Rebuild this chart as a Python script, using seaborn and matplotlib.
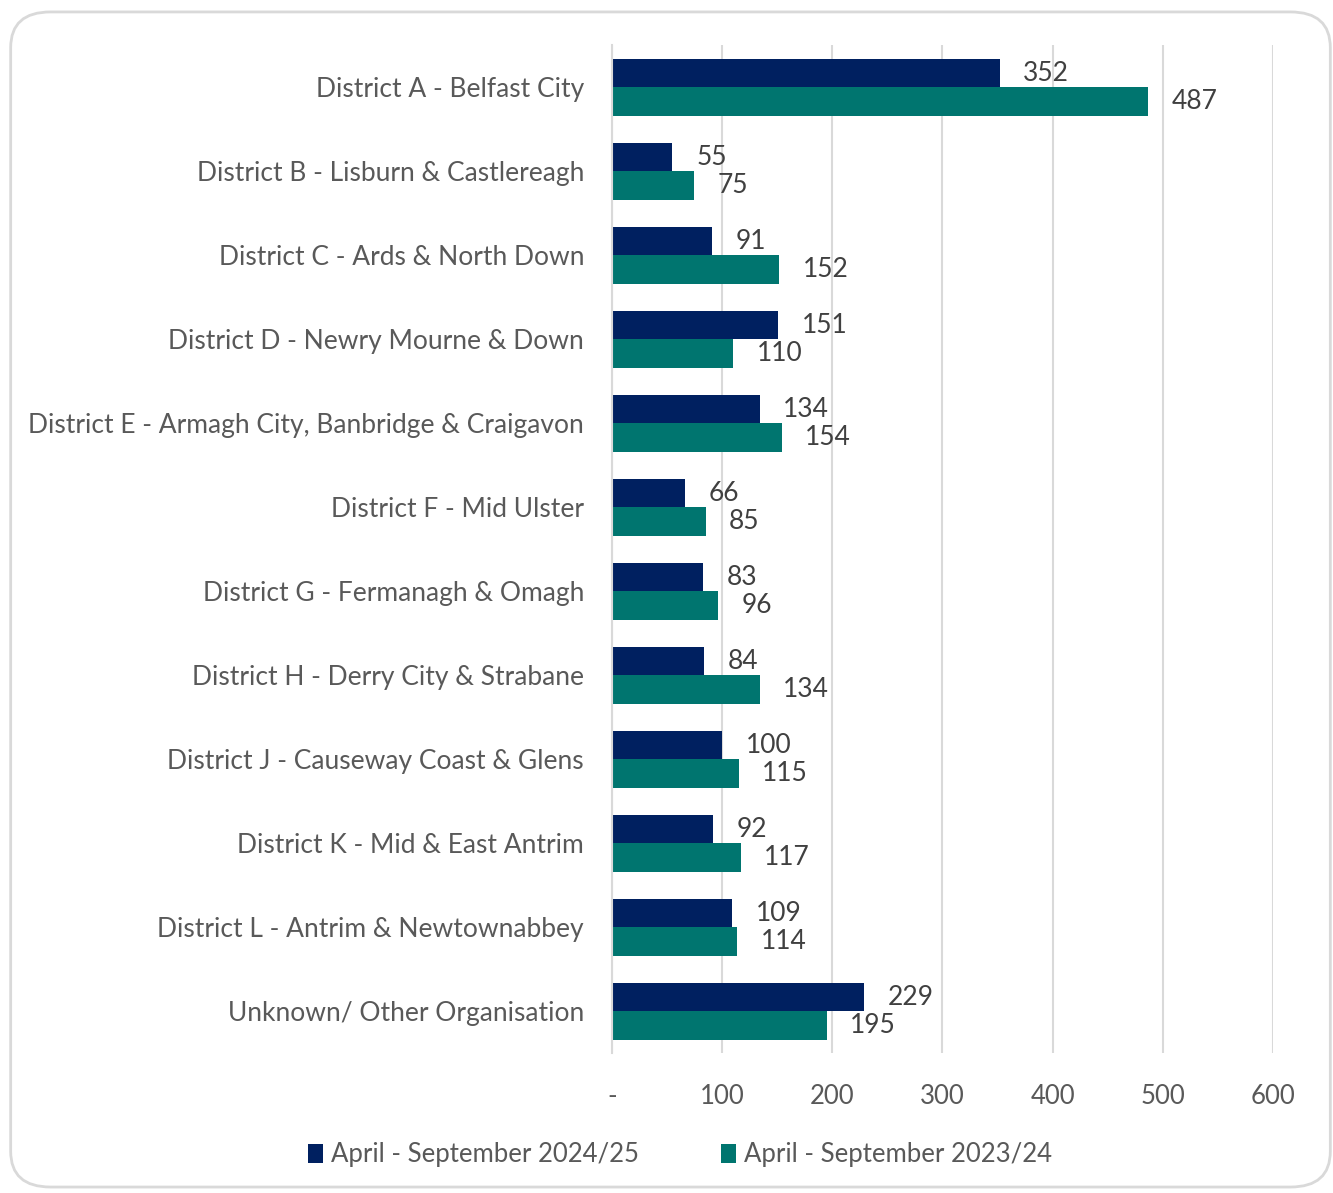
import matplotlib
matplotlib.use("Agg")
import matplotlib.pyplot as plt
import seaborn as sns
import pandas as pd
from matplotlib.patches import FancyBboxPatch, Patch
from matplotlib.ticker import FixedLocator, FixedFormatter

categories = [
    "District A - Belfast City",
    "District B - Lisburn & Castlereagh",
    "District C - Ards & North Down",
    "District D - Newry Mourne & Down",
    "District E - Armagh City, Banbridge & Craigavon",
    "District F - Mid Ulster",
    "District G - Fermanagh & Omagh",
    "District H - Derry City & Strabane",
    "District J - Causeway Coast & Glens",
    "District K - Mid & East Antrim",
    "District L - Antrim & Newtownabbey",
    "Unknown/ Other Organisation",
]
series_names = ["April - September 2024/25", "April - September 2023/24"]
values_2024 = [352, 55, 91, 151, 134, 66, 83, 84, 100, 92, 109, 229]
values_2023 = [487, 75, 152, 110, 154, 85, 96, 134, 115, 117, 114, 195]
x_ticks = [0, 100, 200, 300, 400, 500, 600]
x_tick_labels = ["-", "100", "200", "300", "400", "500", "600"]

colors = ["#002060", "#00756F"]

df = pd.DataFrame({
    "category": categories * 2,
    "series": [series_names[0]] * len(categories) + [series_names[1]] * len(categories),
    "value": values_2024 + values_2023,
})

sns.set_theme(style="white")
plt.rcParams["font.family"] = ["Lato", "DejaVu Sans"]

fig = plt.figure(figsize=(13.33, 11.93), dpi=100)
fig.patch.set_facecolor("white")
border = FancyBboxPatch((0.008, 0.005), 0.99, 0.985, boxstyle="round,pad=0,rounding_size=0.03",
                        transform=fig.transFigure, facecolor="white", edgecolor="#D9D9D9",
                        linewidth=2.0, zorder=-10)
fig.patches.append(border)

ax = fig.add_axes([0.459, 0.117, 0.496, 0.845])
ax.set_facecolor("none")
sns.barplot(data=df, y="category", x="value", hue="series", orient="h",
            palette=colors, width=0.68, ax=ax, legend=False, saturation=1,
            edgecolor="none", linewidth=0)

ax.set_xlim(0, 600)
ax.xaxis.set_major_locator(FixedLocator(x_ticks))
ax.xaxis.set_major_formatter(FixedFormatter(x_tick_labels))
ax.grid(axis="x", color="#D9D9D9", linewidth=1.5)
ax.set_axisbelow(True)
for s in ["top", "right", "bottom"]:
    ax.spines[s].set_visible(False)
ax.spines["left"].set_color("#D9D9D9")
ax.spines["left"].set_linewidth(1.5)
ax.set_xlabel("")
ax.set_ylabel("")
ax.tick_params(axis="x", length=0, pad=22, labelsize=18.5, labelcolor="#595959")
ax.tick_params(axis="y", length=0, pad=20, labelsize=19, labelcolor="#595959")
ax.get_xticklabels()[0].set_x(0)

for cont in ax.containers:
    ax.bar_label(cont, padding=17, fontsize=19, color="#404040")

handles = [Patch(facecolor=c, edgecolor="none") for c in colors]
fig.legend(handles, series_names, loc="center", bbox_to_anchor=(0.51, 0.032), ncol=2,
           frameon=False, fontsize=18.5, labelcolor="#595959", handlelength=0.6,
           handleheight=0.8, handletextpad=0.3, columnspacing=3.2)

fig.savefig("out.png", dpi=100, facecolor="white")
